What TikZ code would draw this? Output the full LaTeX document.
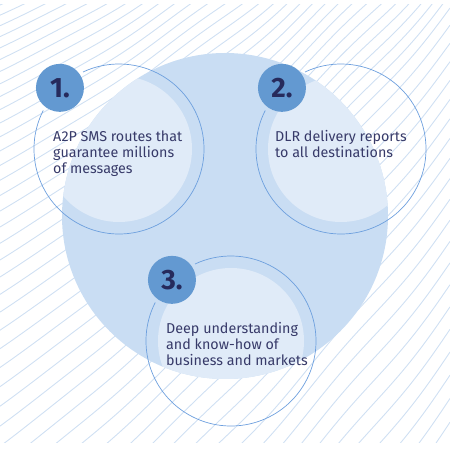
\documentclass[tikz,border=0pt]{standalone}
\usepackage{fontspec}
\setmainfont{Fira Sans}
\usetikzlibrary{calc}
\definecolor{bluebig}{RGB}{201,221,243}
\definecolor{bluelight}{RGB}{224,235,248}
\definecolor{bluebadge}{RGB}{99,153,209}
\definecolor{blueline}{RGB}{110,160,222}
\definecolor{bluehatch}{RGB}{208,224,243}
\definecolor{navy}{RGB}{38,42,92}
\definecolor{textnavy}{RGB}{55,58,105}

\begin{document}
\begin{tikzpicture}[x=1pt, y=1pt,
  badge/.style={circle, fill=bluebadge, minimum size=48pt, inner sep=0pt, font=\fontsize{28}{28}\selectfont\bfseries, text=navy},
  feature/.style={anchor=north west, align=left, inner sep=0pt, font=\fontsize{14.3}{16}\selectfont, text=textnavy},
  ring/.style={blueline, line width=0.7pt}]
  \useasboundingbox (0,0) rectangle (450,450);
  % wavy hatch lines in the background
  \begin{scope}
    \clip (0,7) rectangle (450,445);
    \foreach \k in {0,...,51}{
      \pgfmathsetmacro\c{445-10*\k-0.18*\k*\k}
      \pgfmathsetmacro\m{ifthenelse(\c>0, 0.75-0.0007*\c, 0.75-0.0003*\c)}
      \draw[bluehatch, line width=0.9pt] plot[domain=0:450, samples=46, smooth]
        (\x, {\c+\m*\x+0.0005*\x*\x+4*(\x/450)*sin(2.4*\x)});
    }
  \end{scope}

  % big disc
  \node[circle, fill=bluebig, minimum size=326pt, inner sep=0pt] (big) at (225,234) {};
  \coordinate (c1) at (119,301);
  \coordinate (c2) at (341,301);
  \coordinate (c3) at (231,109);

  % lighter inner discs, only on the big disc
  \begin{scope}
    \clip (big.center) circle[radius=163pt];
    \foreach \n in {c1,c2,c3}
      \fill[bluelight] (\n) circle[radius=73pt];
  \end{scope}

  % thin outlines, open at the badge
  \foreach \n in {c1,c2,c3}
    \draw[ring] (\n) ++(153:85pt) arc[start angle=153, end angle=475, radius=85pt];

  \node[badge] (b1) at ($(c1)+(134:85pt)$) {1.};
  \node[badge] (b2) at ($(c2)+(134:85pt)$) {2.};
  \node[badge] (b3) at ($(c3)+(134:85pt)$) {3.};

  \node[feature] (t1) at ($(c1)+(-66,18.5)$) {A2P SMS routes that\\guarantee millions\\of messages};
  \node[feature] (t2) at ($(c2)+(-66,18.5)$) {DLR delivery reports\\to all destinations};
  \node[feature] (t3) at ($(c3)+(-65,18.5)$) {Deep understanding\\and know-how of\\business and markets};
\end{tikzpicture}
\end{document}
